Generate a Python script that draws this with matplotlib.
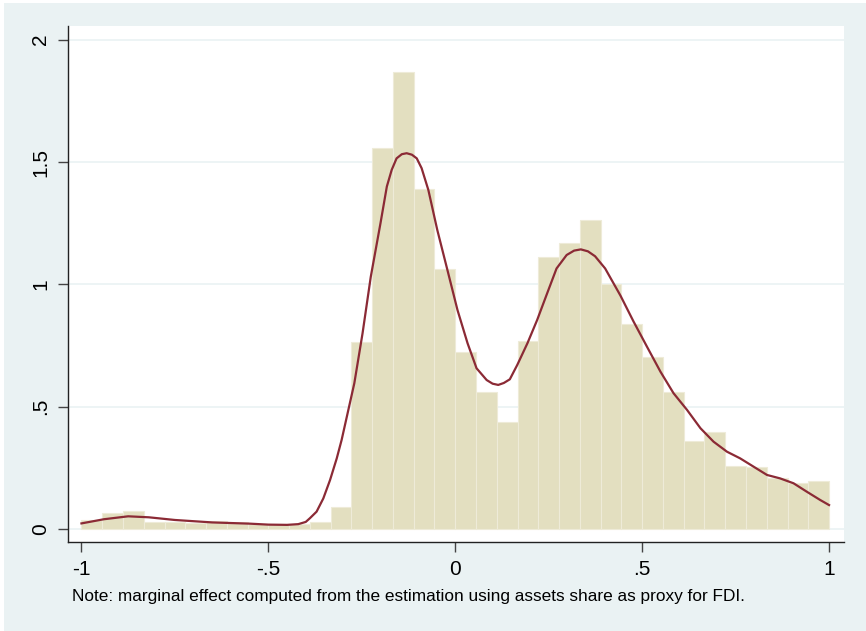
import numpy as np
import matplotlib.pyplot as plt
from matplotlib.patches import Rectangle

# histogram bar heights (density), 36 bins from -1 to 1
bar_heights = [0.037, 0.067, 0.075, 0.027, 0.027, 0.026, 0.034, 0.027, 0.020,
               0.020, 0.022, 0.030, 0.092, 0.766, 1.559, 1.867, 1.389, 1.062,
               0.725, 0.561, 0.436, 0.770, 1.110, 1.168, 1.262, 1.000, 0.838,
               0.704, 0.561, 0.361, 0.397, 0.259, 0.255, 0.207, 0.187, 0.195]

# kernel density curve
kde_x = [-1.0, -0.94, -0.875, -0.82, -0.75, -0.65, -0.55, -0.5, -0.45, -0.42,
         -0.40, -0.389, -0.371, -0.353, -0.335, -0.317, -0.304, -0.27, -0.248,
         -0.226, -0.2, -0.183, -0.17, -0.157, -0.143, -0.13, -0.116, -0.103,
         -0.09, -0.072, -0.048, -0.021, 0.006, 0.033, 0.057, 0.084, 0.1, 0.115,
         0.13, 0.146, 0.166, 0.193, 0.219, 0.246, 0.271, 0.298, 0.318, 0.336,
         0.355, 0.374, 0.401, 0.442, 0.477, 0.513, 0.549, 0.584, 0.62, 0.656,
         0.691, 0.727, 0.762, 0.798, 0.834, 0.869, 0.905, 0.94, 0.976, 1.0]
kde_y = [0.023, 0.040, 0.052, 0.048, 0.037, 0.027, 0.022, 0.018, 0.017, 0.020,
         0.029, 0.044, 0.071, 0.125, 0.200, 0.289, 0.364, 0.596, 0.800,
         1.031, 1.250, 1.400, 1.468, 1.515, 1.532, 1.536, 1.530, 1.515,
         1.475, 1.386, 1.222, 1.059, 0.895, 0.759, 0.657, 0.609, 0.594, 0.589,
         0.597, 0.612, 0.671, 0.759, 0.854, 0.964, 1.065, 1.120, 1.138, 1.143,
         1.135, 1.115, 1.065, 0.954, 0.848, 0.745, 0.643, 0.555, 0.487, 0.412,
         0.357, 0.316, 0.289, 0.255, 0.221, 0.207, 0.187, 0.153, 0.119, 0.098]

x_ticks = [-1, -0.5, 0, 0.5, 1]
x_labels = ['-1', '-.5', '0', '.5', '1']
y_ticks = [0, 0.5, 1, 1.5, 2]
y_labels = ['0', '.5', '1', '1.5', '2']

note = 'Note: marginal effect computed from the estimation using assets share as proxy for FDI.'

bg = '#eaf2f3'
plt.rcParams['font.family'] = ['Liberation Sans', 'DejaVu Sans']

fig = plt.figure(figsize=(8.66, 6.31), dpi=100)
fig.patch.set_facecolor('white')
fig.patches.append(Rectangle((4 / 866, 0), 1, 1 - 3 / 631, transform=fig.transFigure,
                             facecolor=bg, edgecolor='none', zorder=-10))

ax = fig.add_axes([68 / 866, 89 / 631, 776 / 866, 516 / 631])
ax.set_facecolor('white')

edges = np.linspace(-1, 1, len(bar_heights) + 1)
ax.bar(edges[:-1], bar_heights, width=np.diff(edges), align='edge',
       color='#e3dfc0', edgecolor='#eeebd8', linewidth=0.8, zorder=2)
ax.plot(kde_x, kde_y, color='#8b2a35', linewidth=1.6, zorder=3)

ax.set_xlim(-1.036, 1.040)
ax.set_ylim(-0.053, 2.056)
for y in y_ticks:
    ax.axhline(y, color=bg, linewidth=1.2, zorder=1)

ax.set_xticks(x_ticks)
ax.set_xticklabels(x_labels, fontsize=15)
ax.set_yticks(y_ticks)
ax.set_yticklabels(y_labels, fontsize=15, rotation=90, va='center')
ax.tick_params(axis='both', length=7, width=1, color='#444444', pad=6)

for side in ['top', 'right']:
    ax.spines[side].set_visible(False)
for side in ['left', 'bottom']:
    ax.spines[side].set_color('#222222')
    ax.spines[side].set_linewidth(1)

fig.text(72 / 866, 1 - 597 / 631, note, fontsize=12.4, va='center', ha='left')

fig.savefig('out.png', dpi=100, facecolor=fig.get_facecolor())
